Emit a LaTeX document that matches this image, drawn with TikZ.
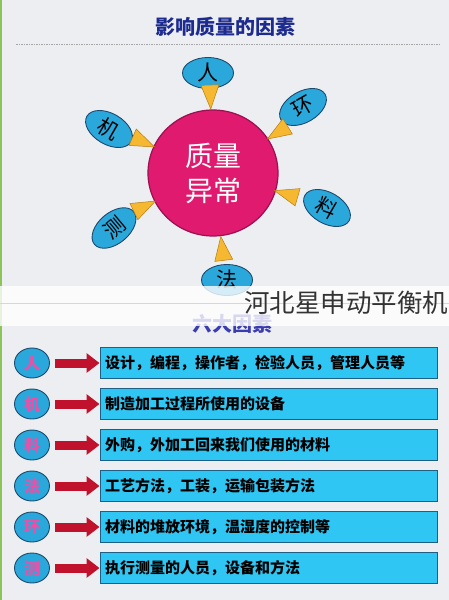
\documentclass[tikz,border=0pt]{standalone}
\usepackage{fontspec}
\setmainfont{Noto Sans CJK SC}
\usetikzlibrary{arrows.meta,calc,shapes.geometric}
\definecolor{bgc}{HTML}{ECEEF1}
\definecolor{edgegreen}{HTML}{8CC45A}
\definecolor{titleblue}{HTML}{1D2B8F}
\definecolor{subblue}{HTML}{3B3CB0}
\definecolor{hubpink}{HTML}{E01A6E}
\definecolor{hubedge}{HTML}{9A1050}
\definecolor{satcyan}{HTML}{2AA8DC}
\definecolor{satedge}{HTML}{1B4A6E}
\definecolor{triyellow}{HTML}{F6B830}
\definecolor{triedge}{HTML}{B57D12}
\definecolor{keypink}{HTML}{EE4EA5}
\definecolor{arrowred}{HTML}{C0122C}
\definecolor{boxcyan}{HTML}{2FC6F3}
\definecolor{boxedge}{HTML}{1E5F85}
\definecolor{wmgray}{HTML}{333333}
\tikzset{
  titletext/.style={font=\fontsize{20}{22}\selectfont\bfseries, text=titleblue, inner sep=0pt},
  subtext/.style={font=\fontsize{20}{22}\selectfont\bfseries, text=subblue, inner sep=0pt},
  hub/.style={ellipse, minimum width=130pt, minimum height=126pt, inner sep=0pt,
    fill=hubpink, draw=hubedge, line width=1.2pt, text=white, align=center,
    font=\fontsize{28}{35}\selectfont},
  sat/.style={ellipse, minimum width=51pt, minimum height=31pt, inner sep=0pt,
    fill=satcyan, draw=satedge, line width=0.9pt, text=black,
    font=\fontsize{21}{22}\selectfont},
  tri/.style={fill=triyellow, draw=triedge, line width=0.5pt},
  keynode/.style={ellipse, minimum width=35pt, minimum height=30pt, inner sep=0pt,
    fill=satcyan, draw=satedge, line width=0.9pt, text=keypink,
    font=\fontsize{16}{17}\selectfont\bfseries},
  rowbox/.style={rectangle, minimum width=337pt, minimum height=31pt, text width=327pt,
    inner sep=5pt, align=left, fill=boxcyan, draw=boxedge, line width=1pt,
    font=\fontsize{15}{16}\selectfont\bfseries, text=black},
  redarrow/.style={draw=arrowred, line width=9pt, shorten <=5pt,
    -{Triangle[length=13pt,width=19pt]}},
  wmtext/.style={font=\fontsize{25.5}{26}\selectfont, text=wmgray, inner sep=0pt}
}
\begin{document}
\begin{tikzpicture}[x=1pt,y=-1pt]
\useasboundingbox (0,0) rectangle (449,600);
\fill[bgc] (0,0) rectangle (449,600);
\draw[edgegreen, line width=2.5pt] (1.2,0) -- (1.2,600);

% title and rule
\node[titletext] (title) at (225,27) {影响质量的因素};
\coordinate (ruleL) at (16,44);
\coordinate (ruleR) at (441,44);
\draw[gray!70, line width=0.7pt, dash pattern=on 1.5pt off 1pt] (ruleL) -- (ruleR);

% hub and satellites
\node[hub] (hub) at (213,173) {质量\\异常};
\node[sat] (ren) at (208,73) {人};
\node[sat, rotate=30] (huan) at (303,107) {环};
\node[sat, rotate=-30] (ji) at (109,129) {机};
\node[sat, rotate=-30] (liao) at (327,208) {料};
\node[sat, rotate=40] (ce) at (114,228) {测};
\node[sat] (fa) at (227,280) {法};

% pointers toward the hub
\foreach \a in {-92,-32,-156,16,154,83}{
  \filldraw[tri] ($(hub)+(\a:64)$) -- ($(hub)+(\a:88)+(\a+90:9)$)
     -- ($(hub)+(\a:88)+(\a-90:9)$) -- cycle;
}

% second heading
\node[subtext] (sub) at (232,324) {六大因素};

% overlay band with watermark
\fill[white, opacity=0.8] (0,286) rectangle (449,326);
\draw[edgegreen!45, line width=0.8pt] (0,303) -- (449,303);
\node[wmtext, anchor=west] (wm) at (244,303) {河北星申动平衡机};

% six factor rows
\foreach \i/\k/\t in {0/人/设计，编程，操作者，检验人员，管理人员等,
                      1/机/制造加工过程所使用的设备,
                      2/料/外购，外加工回来我们使用的材料,
                      3/法/工艺方法，工装，运输包装方法,
                      4/环/材料的堆放环境，温湿度的控制等,
                      5/测/执行测量的人员，设备和方法}{
  \node[keynode] (k\i) at (32,363+41*\i) {\k};
  \node[rowbox] (b\i) at (268.5,363+41*\i) {\t};
  \draw[redarrow] (k\i.east) -- (b\i.west);
}
\end{tikzpicture}
\end{document}
